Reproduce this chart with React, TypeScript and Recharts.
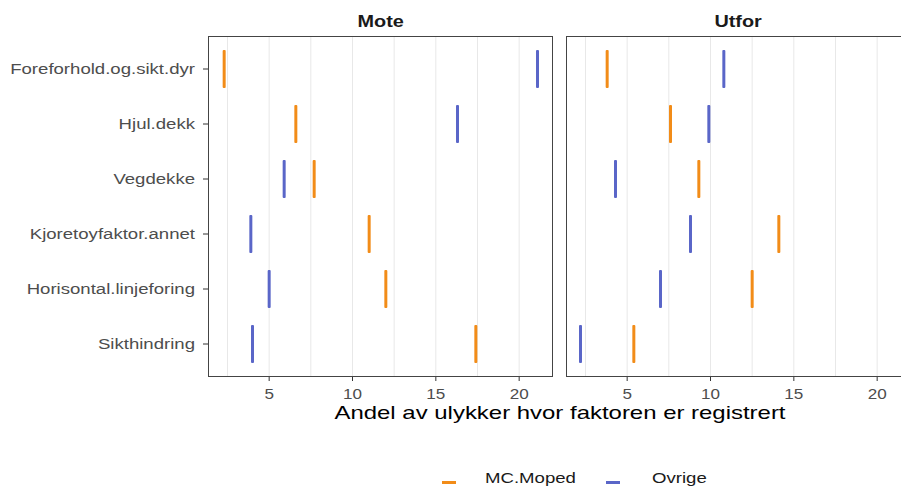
import React from "react";
import { ScatterChart, Scatter, XAxis, YAxis, ReferenceLine } from "recharts";

const categories = [
  "Foreforhold.og.sikt.dyr",
  "Hjul.dekk",
  "Vegdekke",
  "Kjoretoyfaktor.annet",
  "Horisontal.linjeforing",
  "Sikthindring",
];
const seriesNames = ["MC.Moped", "Ovrige"];
const seriesColors = ["#F28C18", "#5A66C8"];

const moteMC = [2.3, 6.6, 7.7, 11.0, 12.0, 17.4];
const moteOvrige = [21.1, 16.3, 5.9, 3.9, 5.0, 4.0];
const utforMC = [3.8, 7.6, 9.3, 14.1, 12.5, 5.4];
const utforOvrige = [10.8, 9.9, 4.3, 8.8, 7.0, 2.2];

const xTicks = [5, 10, 15, 20];
const gridValues = [2.5, 5, 7.5, 10, 12.5, 15, 17.5, 20];
const xDomain = [1.33, 22.03];

const FONT = '"Liberation Sans", Arial, sans-serif';
const PANEL_TOP = 36;
const PANEL_W = 345;
const PANEL_H = 341;
const STRETCH = 1.24; // reference text is a bit wide
const legendX = [442, 606];

// short vertical dash, like ggplot's "|" shape
const Dash = (props: any) => {
  const { cx, cy, fill } = props;
  if (cx == null || cy == null) return null;
  return <rect x={cx - 1.5} y={cy - 19} width={3} height={38} rx={1} fill={fill} />;
};

const XTick = (props: any) => {
  const { x, y, payload } = props;
  return (
    <g transform={`translate(${x},${y})`}>
      <text transform={`scale(${STRETCH * 0.95},1)`} textAnchor="middle" dy="0.71em" fontSize={14.5} fill="#4d4d4d" fontFamily={FONT}>
        {payload.value}
      </text>
    </g>
  );
};

const YTick = (props: any) => {
  const { x, y, payload } = props;
  return (
    <g transform={`translate(${x},${y})`}>
      <text transform={`scale(${STRETCH},1)`} textAnchor="end" dy="0.36em" fontSize={15} fill="#4d4d4d" fontFamily={FONT}>
        {categories[payload.value]}
      </text>
    </g>
  );
};

const wide: React.CSSProperties = { display: "inline-block", transform: `scaleX(${STRETCH})` };

function Panel({ left, yWidth, title, values }: { left: number; yWidth: number; title: string; values: number[][] }) {
  const showY = yWidth > 0;
  return (
    <div style={{ position: "absolute", left: left - yWidth, top: 0 }}>
      <div
        style={{
          position: "absolute",
          left: yWidth,
          top: 12,
          width: PANEL_W,
          textAlign: "center",
          fontWeight: "bold",
          fontSize: 16,
          lineHeight: "20px",
          color: "#1a1a1a",
        }}
      >
        <span style={wide}>{title}</span>
      </div>
      <ScatterChart
        width={yWidth + PANEL_W + 1}
        height={486}
        margin={{ top: PANEL_TOP, right: 1, bottom: 79, left: 0 }}
      >
        {gridValues.map((v) => (
          <ReferenceLine key={v} x={v} stroke="#e8e8e8" strokeWidth={1} />
        ))}
        <XAxis
          type="number"
          dataKey="x"
          domain={xDomain}
          ticks={xTicks}
          allowDataOverflow
          height={30}
          axisLine={false}
          tickSize={4}
          tickMargin={8}
          tickLine={{ stroke: "#333" }}
          tick={<XTick />}
        />
        <YAxis
          type="number"
          dataKey="y"
          domain={[-0.6, categories.length - 0.4]}
          ticks={categories.map((_, i) => i)}
          reversed
          hide={!showY}
          width={yWidth}
          axisLine={false}
          tickSize={5}
          tickMargin={8}
          tickLine={{ stroke: "#333" }}
          tick={<YTick />}
        />
        {values.map((vals, s) => (
          <Scatter
            key={seriesNames[s]}
            name={seriesNames[s]}
            data={categories.map((c, i) => ({ y: i, x: vals[i], cat: c }))}
            fill={seriesColors[s]}
            shape={Dash}
            isAnimationActive={false}
          />
        ))}
      </ScatterChart>
      <div
        style={{
          position: "absolute",
          left: yWidth,
          top: PANEL_TOP,
          width: PANEL_W,
          height: PANEL_H,
          border: "1px solid #444",
          boxSizing: "border-box",
          pointerEvents: "none",
        }}
      />
    </div>
  );
}

export default function App() {
  return (
    <div
      style={{
        position: "absolute",
        left: 0,
        top: 0,
        width: 901,
        height: 486,
        overflow: "hidden",
        background: "#fff",
        fontFamily: FONT,
      }}
    >
      <Panel left={208} yWidth={208} title="Mote" values={[moteMC, moteOvrige]} />
      <Panel left={566} yWidth={0} title="Utfor" values={[utforMC, utforOvrige]} />

      <div
        style={{
          position: "absolute",
          left: 208,
          top: 401,
          width: 703,
          textAlign: "center",
          fontSize: 19,
          lineHeight: "24px",
          color: "#000",
        }}
      >
        <span style={{ ...wide, transform: "scaleX(1.26)" }}>Andel av ulykker hvor faktoren er registrert</span>
      </div>

      {seriesNames.map((n, i) => (
        <div key={n}>
          <div style={{ position: "absolute", left: legendX[i], top: 481, width: 14, height: 3, background: seriesColors[i] }} />
          <span
            style={{
              position: "absolute",
              left: legendX[i] + (i === 0 ? 43 : 46),
              top: 468,
              fontSize: 15,
              lineHeight: "20px",
              color: "#1a1a1a",
              whiteSpace: "nowrap",
              transform: `scaleX(${STRETCH})`,
              transformOrigin: "left center",
            }}
          >
            {n}
          </span>
        </div>
      ))}
    </div>
  );
}
